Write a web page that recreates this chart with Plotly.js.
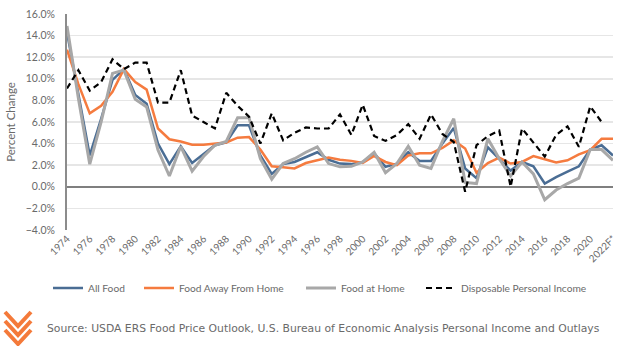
<!DOCTYPE html>
<html><head><meta charset="utf-8">
<script src="https://cdn.plot.ly/plotly-3.0.1.min.js"></script>
<style>html,body{margin:0;padding:0;background:#fff}#chart{width:624px;height:346px}</style>
</head><body><div id="chart"></div>
<script>
const years = ['1974','1975','1976','1977','1978','1979','1980','1981','1982','1983','1984','1985','1986','1987','1988','1989','1990','1991','1992','1993','1994','1995','1996','1997','1998','1999','2000','2001','2002','2003','2004','2005','2006','2007','2008','2009','2010','2011','2012','2013','2014','2015','2016','2017','2018','2019','2020','2021','2022F*'];
const tickYears = ['1974','1976','1978','1980','1982','1984','1986','1988','1990','1992','1994','1996','1998','2000','2002','2004','2006','2008','2010','2012','2014','2016','2018','2020','2022F*'];
const allFood = [14.3,8.5,2.9,6.3,9.9,10.9,8.5,7.7,4.0,2.1,3.75,2.2,3.0,3.85,4.1,5.7,5.7,2.9,1.2,2.1,2.3,2.75,3.2,2.5,2.15,2.1,2.3,3.1,1.85,2.15,3.2,2.4,2.4,4.0,5.45,1.7,0.8,3.65,2.6,1.5,2.3,1.9,0.3,0.9,1.4,1.9,3.45,3.85,2.9];
const foodAway = [12.7,9.5,6.8,7.5,8.8,10.9,9.7,9.0,5.4,4.4,4.2,3.9,3.9,4.0,4.1,4.55,4.6,3.45,1.9,1.8,1.7,2.2,2.45,2.7,2.5,2.4,2.2,2.85,2.3,2.0,2.9,3.1,3.1,3.6,4.3,3.55,1.3,2.2,2.7,2.15,2.3,2.85,2.55,2.25,2.45,3.0,3.4,4.45,4.45];
const foodHome = [14.9,8.2,2.1,6.0,10.5,10.8,8.1,7.4,3.4,1.0,3.75,1.45,2.8,3.85,4.2,6.4,6.4,2.6,0.7,2.15,2.6,3.2,3.7,2.15,1.85,1.9,2.3,3.2,1.3,2.15,3.75,2.0,1.7,4.2,6.3,0.4,0.3,4.45,2.6,1.0,2.3,1.2,-1.2,-0.3,0.3,0.8,3.45,3.45,2.45];
const dpi = [9.1,10.8,8.9,9.7,11.8,10.9,11.5,11.5,7.8,7.8,10.8,6.6,6.0,5.4,8.7,7.5,6.5,4.0,6.8,4.3,5.0,5.5,5.4,5.4,6.7,4.8,7.6,4.7,4.25,4.8,5.8,4.45,6.7,4.9,4.15,-0.45,3.85,4.7,5.2,0.0,5.4,4.15,2.8,4.8,5.6,3.7,7.45,6.0,null];
const sourceText = 'Source: USDA ERS Food Price Outlook, U.S. Bureau of Economic Analysis Personal Income and Outlays';

const FONT = 'Lato, "Liberation Sans", sans-serif';
const TXT = '#6a6a6a';
const traces = [
  {x: years, y: allFood, name: 'All Food', type: 'scatter', mode: 'lines', legend: 'legend', line: {color: '#4a6d94', width: 2.5}},
  {x: years, y: foodAway, name: 'Food Away From Home', type: 'scatter', mode: 'lines', legend: 'legend2', line: {color: '#f57b3f', width: 2.5}},
  {x: years, y: foodHome, name: 'Food at Home', type: 'scatter', mode: 'lines', legend: 'legend3', line: {color: '#a8a8a8', width: 3}},
  {x: years, y: dpi, name: 'Disposable Personal Income', type: 'scatter', mode: 'lines', legend: 'legend4', line: {color: '#000000', width: 2.2, dash: '6px,4px'}}
];

// pixel -> paper helpers for layout placement
const L = 67, R = 11, T = 14, B = 116, W = 624, H = 346;
const pw = W - L - R, ph = H - T - B;
const px = v => (v - L) / pw;
const py = v => (H - B - v) / ph;
function chevron(x0, y0, w, h) {
  return {type: 'path', xref: 'paper', yref: 'paper',
    path: `M ${px(x0)} ${py(y0)} L ${px(x0 + w/2)} ${py(y0 + h)} L ${px(x0 + w)} ${py(y0)}`,
    line: {color: '#f47a3a', width: 4}};
}
const shapes = [chevron(5, 312, 26, 14), chevron(5, 321, 26, 14), chevron(5, 330, 26, 14)];

function leg(xStart) {
  return {orientation: 'h', x: px(xStart - 4), xanchor: 'left', y: py(288), yanchor: 'middle',
    font: {family: FONT, size: 10.2, color: TXT}, itemwidth: 30, bgcolor: 'rgba(0,0,0,0)'};
}

const layout = {
  width: W, height: H,
  margin: {l: L, r: R, t: T, b: B, pad: 0},
  paper_bgcolor: '#ffffff', plot_bgcolor: '#ffffff',
  font: {family: FONT, color: TXT, size: 10},
  showlegend: true,
  legend: leg(52), legend2: leg(143), legend3: leg(305), legend4: leg(425),
  xaxis: {type: 'category', tickmode: 'array', tickvals: tickYears, ticktext: tickYears,
    tickangle: -45, tickfont: {family: FONT, size: 10, color: TXT},
    showgrid: false, showline: false, ticks: '', zeroline: false, fixedrange: true},
  yaxis: {range: [-4, 16], dtick: 2, tickformat: '.1f', ticksuffix: '%',
    tickfont: {family: FONT, size: 10.5, color: TXT},
    gridcolor: '#e6e6e6', gridwidth: 1.5,
    zeroline: true, zerolinecolor: '#7f7f7f', zerolinewidth: 1.5,
    showline: true, linecolor: '#8c8c8c', linewidth: 2, ticks: '', ticklabelstandoff: 8,
    title: {text: 'Percent Change', font: {family: FONT, size: 11.5, color: TXT}, standoff: 8},
    fixedrange: true},
  shapes: shapes,
  annotations: [{text: sourceText, xref: 'paper', yref: 'paper', x: px(45), y: py(328),
    xanchor: 'left', yanchor: 'middle', showarrow: false,
    font: {family: '"DejaVu Sans", sans-serif', size: 10.8, color: TXT}}],
  hovermode: false
};
Plotly.newPlot('chart', traces, layout, {displayModeBar: false, staticPlot: true});
</script></body></html>
